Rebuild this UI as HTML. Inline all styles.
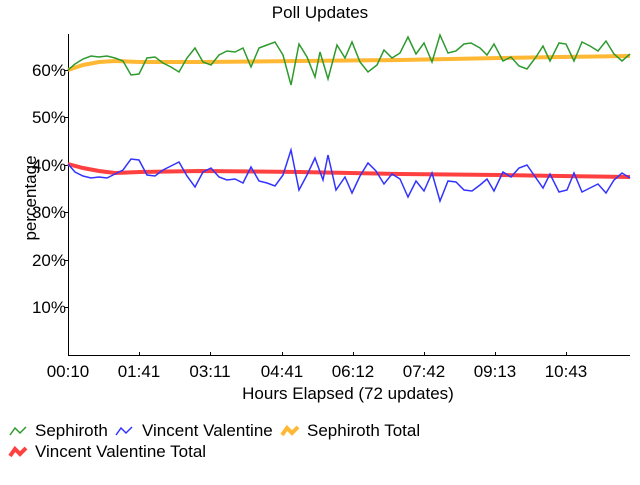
<!DOCTYPE html>
<html><head><meta charset="utf-8"><style>
body{margin:0;background:#fff;width:640px;height:480px;overflow:hidden}
text{font-family:"Liberation Sans Narrow","Liberation Sans",sans-serif;fill:#000}
</style></head><body>
<svg width="640" height="480" xmlns="http://www.w3.org/2000/svg">
<text x="320" y="18" font-size="17" text-anchor="middle">Poll Updates</text>
<g font-size="17" text-anchor="end">
<text x="66" y="76">60%</text><text x="66" y="123">50%</text><text x="66" y="171">40%</text>
<text x="66" y="218">30%</text><text x="66" y="266">20%</text><text x="66" y="313">10%</text>
</g>
<text transform="translate(36,198) rotate(-90)" font-size="17" text-anchor="middle">percentage</text>
<g stroke="#000" stroke-width="1">
<line x1="68.5" y1="34" x2="68.5" y2="355"/>
<line x1="68" y1="355.5" x2="630" y2="355.5"/>
<line x1="64" y1="70.5" x2="68" y2="70.5"/><line x1="64" y1="117.5" x2="68" y2="117.5"/>
<line x1="64" y1="165.5" x2="68" y2="165.5"/><line x1="64" y1="212.5" x2="68" y2="212.5"/>
<line x1="64" y1="260.5" x2="68" y2="260.5"/><line x1="64" y1="307.5" x2="68" y2="307.5"/>
<line x1="139.5" y1="352" x2="139.5" y2="355"/><line x1="210.5" y1="352" x2="210.5" y2="355"/>
<line x1="282.5" y1="352" x2="282.5" y2="355"/><line x1="353.5" y1="352" x2="353.5" y2="355"/>
<line x1="424.5" y1="352" x2="424.5" y2="355"/><line x1="495.5" y1="352" x2="495.5" y2="355"/>
<line x1="566.5" y1="352" x2="566.5" y2="355"/>
</g>
<g font-size="17" text-anchor="middle">
<text x="68" y="377">00:10</text><text x="139" y="377">01:41</text><text x="210" y="377">03:11</text>
<text x="282" y="377">04:41</text><text x="353" y="377">06:12</text><text x="424" y="377">07:42</text>
<text x="495" y="377">09:13</text><text x="566" y="377">10:43</text>
<text x="348" y="399">Hours Elapsed (72 updates)</text>
</g>
<polyline fill="none" stroke="#ffb833" stroke-width="4" points="68,70 83,65 99,62 115,61 140,62 200,62 300,61 400,60 500,58 560,57 630,56"/>
<polyline fill="none" stroke="#ff4040" stroke-width="4" points="68,164 83,168 99,171 115,173 140,172 200,171 300,172 400,174 500,175 560,176 630,177"/>
<polyline fill="none" stroke="#2e9a2e" stroke-width="1.5" points="68,70 75,64 83,59 91,56 99,57 107,56 115,58 123,61 131,75 139,74 147,58 155,57 163,63 171,67 179,72 187,58 195,48 203,62 211,65 219,55 227,51 235,52 243,48 251,67 259,48 267,45 275,42 283,55 291,85 299,44 307,57 315,77 320,52 328,79 337,45 345,58 352,42 360,62 368,72 377,65 384,50 392,58 400,53 408,37 416,54 424,43 432,62 440,35 448,53 456,51 464,44 471,43 480,48 487,55 494,44 503,61 511,57 519,66 527,69 536,57 543,46 550,61 559,43 566,44 574,61 582,42 590,46 598,51 606,41 614,54 622,61 630,54"/>
<polyline fill="none" stroke="#3333ff" stroke-width="1.5" points="68,164 75,172 83,176 91,178 99,177 107,178 115,174 123,170 131,159 139,160 147,175 155,176 163,170 171,166 179,162 187,176 195,187 203,172 211,168 219,177 227,180 235,179 243,183 251,167 259,181 267,183 275,186 283,175 291,150 299,190 307,175 315,158 323,180 328,155 336,190 345,177 352,193 360,176 368,163 376,171 384,184 392,174 400,179 408,197 416,181 424,191 432,173 440,201 448,181 456,182 464,190 472,191 480,185 487,179 494,191 503,172 511,177 519,168 527,165 536,178 543,188 550,174 559,192 567,190 574,173 582,192 590,188 598,184 606,193 614,180 622,173 630,178"/>
<g fill="none">
<polyline stroke="#2e9a2e" stroke-width="1.5" points="10,435 15,428 20,433 26,427"/>
<polyline stroke="#3333ff" stroke-width="1.5" points="116,435 121,428 126,433 132,427"/>
<polyline stroke="#ffb833" stroke-width="4" points="282,435 287,428 292,433 298,427"/>
<polyline stroke="#ff4040" stroke-width="4" points="10,456 15,449 20,454 26,448"/>
</g>
<g font-size="17">
<text x="35" y="436">Sephiroth</text><text x="142" y="436">Vincent Valentine</text>
<text x="307" y="436">Sephiroth Total</text><text x="35" y="457">Vincent Valentine Total</text>
</g>
</svg>
</body></html>
